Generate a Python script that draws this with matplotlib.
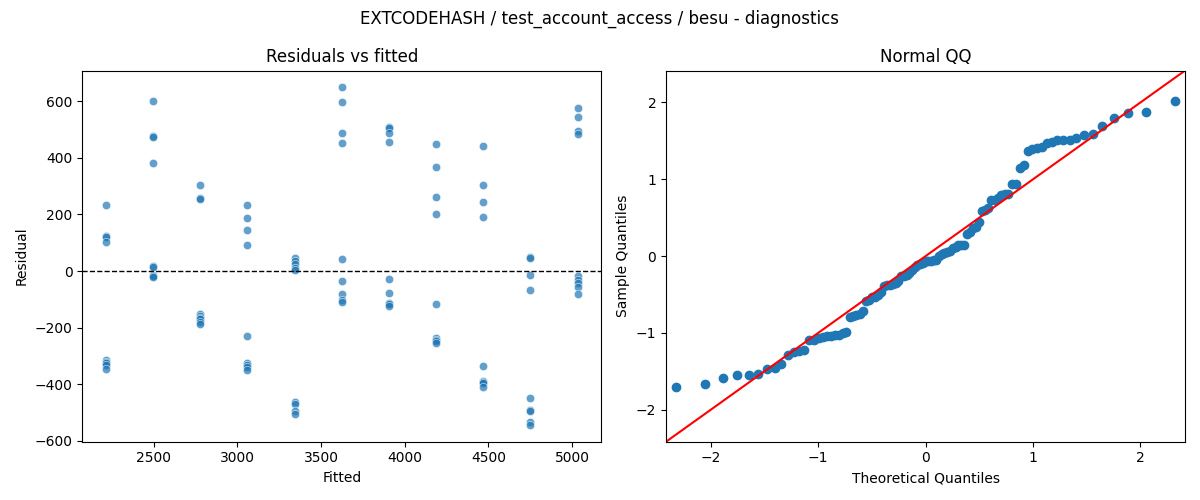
import math
import numpy as np
import matplotlib
matplotlib.use("Agg")
import matplotlib.pyplot as plt
import seaborn as sns

# Fitted value of each group (11 groups, 9 observations each)
fitted_levels = [2215, 2497, 2779, 3060, 3342, 3624, 3906, 4187, 4469, 4751, 5033]

# Residuals per fitted group
resid_g01 = [233, 124, 120, 102, -315, -320, -325, -330, -346]
resid_g02 = [599, 477, 473, 380, 18, 15, -15, -18, -20]
resid_g03 = [302, 258, 255, -150, -160, -167, -170, -180, -187]
resid_g04 = [233, 187, 144, 92, -229, -326, -332, -340, -349]
resid_g05 = [47, 35, 24, 12, 3, -463, -468, -495, -505]
resid_g06 = [648, 596, 486, 451, 41, -36, -81, -102, -110]
resid_g07 = [509, 505, 486, 454, -29, -79, -114, -118, -122]
resid_g08 = [447, 369, 260, 201, -118, -238, -244, -248, -253]
resid_g09 = [440, 302, 242, 191, -336, -388, -392, -396, -410]
resid_g10 = [49, 46, -15, -68, -449, -490, -494, -532, -543]
resid_g11 = [574, 542, 494, 484, -18, -32, -44, -58, -82]

groups = [resid_g01, resid_g02, resid_g03, resid_g04, resid_g05, resid_g06,
          resid_g07, resid_g08, resid_g09, resid_g10, resid_g11]

fitted = np.concatenate([[f] * len(g) for f, g in zip(fitted_levels, groups)]).astype(float)
resid = np.concatenate(groups).astype(float)


def norm_ppf(p):
    lo, hi = -10.0, 10.0
    for _ in range(100):
        mid = 0.5 * (lo + hi)
        if 0.5 * (1 + math.erf(mid / math.sqrt(2))) < p:
            lo = mid
        else:
            hi = mid
    return 0.5 * (lo + hi)


n = len(resid)
pos = np.arange(1, n + 1) / (n + 1)
theo = np.array([norm_ppf(p) for p in pos])
sample = np.sort((resid - resid.mean()) / resid.std(ddof=1))

fig, (ax1, ax2) = plt.subplots(1, 2, figsize=(12, 5), dpi=100)

sns.scatterplot(x=fitted, y=resid, ax=ax1, alpha=0.7, color="C0")
ax1.axhline(0, color="black", linestyle="--", linewidth=1)
ax1.set_title("Residuals vs fitted")
ax1.set_xlabel("Fitted")
ax1.set_ylabel("Residual")

lim = 2.415
ax2.plot(theo, sample, "o", color="C0", markersize=6)
ax2.plot([-lim, lim], [-lim, lim], "r-", linewidth=1.5)
ax2.set_xlim(-lim, lim)
ax2.set_ylim(-lim, lim)
ax2.set_title("Normal QQ")
ax2.set_xlabel("Theoretical Quantiles")
ax2.set_ylabel("Sample Quantiles")

fig.suptitle("EXTCODEHASH / test_account_access / besu - diagnostics")
fig.tight_layout()
fig.savefig("out.png")
